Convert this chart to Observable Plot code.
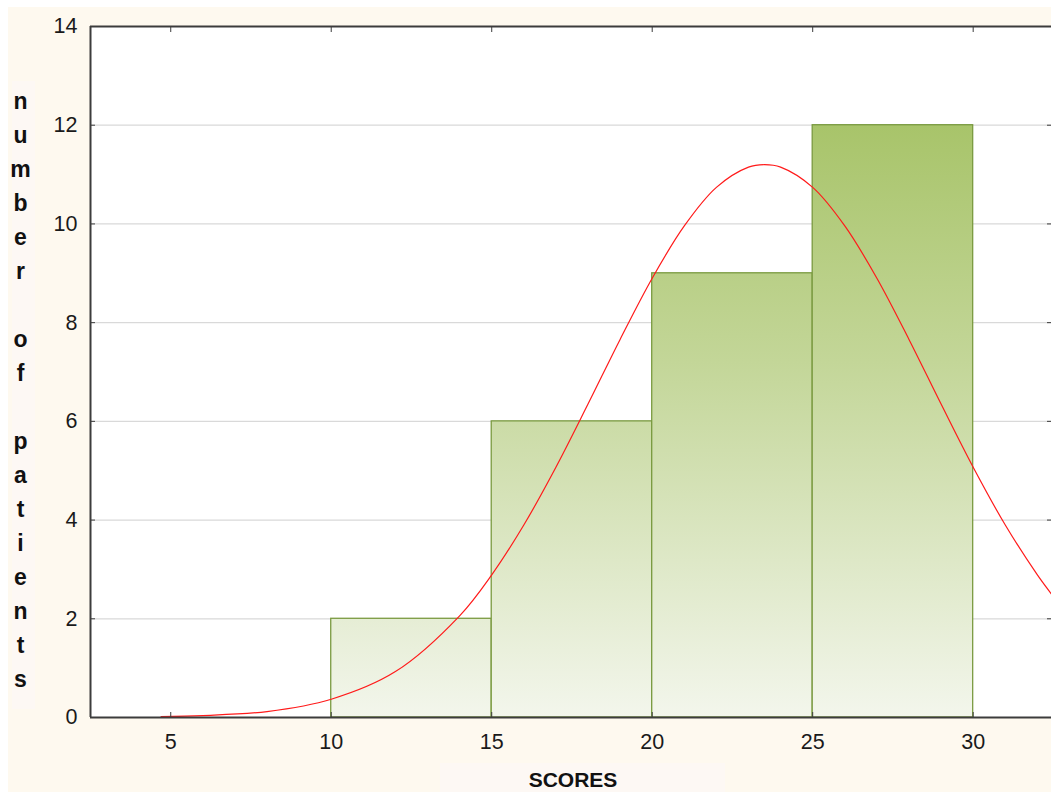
<!DOCTYPE html>
<html>
<head>
<meta charset="utf-8">
<script src="https://cdn.jsdelivr.net/npm/d3@7"></script>
<script src="https://cdn.jsdelivr.net/npm/@observablehq/plot@0.6"></script>
<style>
  html, body { margin: 0; padding: 0; background: #ffffff; overflow: hidden; }
  #bg { position: absolute; left: 8px; top: 7px; width: 1043px; height: 785px; background: #fef9ef; }
  #ybox { position: absolute; left: 12px; top: 81px; width: 23px; height: 628px; background: #fdf8f4; }
  #xbox { position: absolute; left: 440px; top: 763px; width: 285px; height: 29px; background: #fdf8f4; }
  #chart { position: absolute; left: 0; top: 0; }
  #chart svg g[aria-label$="tick label"] text { font-size: 21.5px; }
</style>
</head>
<body>
<div id="bg"></div>
<div id="ybox"></div>
<div id="xbox"></div>
<div id="chart"></div>
<script>
// ---- data ----
const binStart = [10, 15, 20, 25];
const binEnd   = [15, 20, 25, 30];
const counts   = [2, 6, 9, 12];

// fitted normal curve
const curveX = [4.7, 6, 8, 10, 12, 14, 15, 16, 17, 18, 19, 20, 21, 22, 23, 23.5, 24, 25, 26, 27, 28, 29, 30, 31, 32, 32.5];
const curveY = [0.02, 0.04, 0.12, 0.37, 0.93, 2.06, 2.89, 3.9, 5.07, 6.35, 7.66, 8.9, 9.96, 10.74, 11.15, 11.2, 11.15, 10.74, 9.96, 8.9, 7.66, 6.35, 5.07, 3.9, 2.89, 2.45];

const xTicks = [5, 10, 15, 20, 25, 30];
const yTicks = [0, 2, 4, 6, 8, 10, 12, 14];
const gridTicks = [2, 4, 6, 8, 10, 12];
const xDomain = [2.5, 32.44];
const yDomain = [0, 14];
const yLabel = "number of patients";
const xLabel = "SCORES";

const bars = binStart.map((s, i) => ({x1: s, x2: binEnd[i], y: counts[i]}));
const curve = curveX.map((x, i) => ({x, y: curveY[i]}));

const axisColor = "#3c3c3c";
const tickFont = "Liberation Sans, Arial, sans-serif";

const plot = Plot.plot({
  width: 1051,
  height: 792,
  marginLeft: 90,
  marginRight: 0,
  marginTop: 26,
  marginBottom: 75,
  style: {background: "transparent", fontFamily: tickFont, fontSize: "21px", color: "#1a1a1a", overflow: "visible"},
  x: {domain: xDomain, ticks: xTicks, label: null},
  y: {domain: yDomain, ticks: yTicks, label: null},
  marks: [
    Plot.frame({fill: "white", stroke: null}),
    Plot.ruleY(gridTicks, {stroke: "#d9d9d9", strokeWidth: 1.3}),
    Plot.rect(bars, {x1: "x1", x2: "x2", y1: 0, y2: "y", fill: "url(#barGrad)", stroke: "#7a9a40", strokeWidth: 1.3}),
    Plot.line(curve, {x: "x", y: "y", stroke: "#ff1a1a", strokeWidth: 1.2, curve: "catmull-rom", clip: true}),
    // labels
    Plot.axisY({ticks: yTicks, tickSize: 0, tickPadding: 13, fontSize: 21.5, fill: "#1a1a1a", label: null}),
    Plot.axisX({ticks: xTicks, tickSize: 0, tickPadding: 16, fontSize: 21.5, fill: "#1a1a1a", label: null}),
    // inward ticks
    Plot.axisY({ticks: yTicks, tickSize: -5, tickFormat: () => "", stroke: axisColor, label: null}),
    Plot.axisY({ticks: yTicks, anchor: "right", tickSize: -5, tickFormat: () => "", stroke: axisColor, label: null}),
    Plot.axisX({ticks: xTicks, tickSize: -5, tickFormat: () => "", stroke: axisColor, label: null}),
    Plot.axisX({ticks: xTicks, anchor: "top", tickSize: -5, tickFormat: () => "", stroke: axisColor, label: null}),
    // frame lines (left, top, bottom)
    Plot.ruleX([xDomain[0]], {stroke: axisColor, strokeWidth: 2}),
    Plot.ruleY([yDomain[0]], {stroke: axisColor, strokeWidth: 2}),
    Plot.ruleY([yDomain[1]], {stroke: axisColor, strokeWidth: 2}),
    // axis titles
    Plot.text([yLabel.split("").join("\n")], {
      frameAnchor: "left", dx: -70, dy: 15, text: d => d,
      fontFamily: tickFont, fontWeight: "bold", fontSize: 23, lineHeight: 1.48,
      fill: "#111", textAnchor: "middle"
    }),
    Plot.text([xLabel], {
      frameAnchor: "bottom", dx: 2, dy: 69, text: d => d,
      fontFamily: tickFont, fontWeight: "bold", fontSize: 21, fill: "#111", textAnchor: "middle"
    })
  ]
});

// gradient used by the bars (user space: darker at the tallest bar, light at 0)
const ns = "http://www.w3.org/2000/svg";
const defs = document.createElementNS(ns, "defs");
const grad = document.createElementNS(ns, "linearGradient");
grad.setAttribute("id", "barGrad");
grad.setAttribute("gradientUnits", "userSpaceOnUse");
grad.setAttribute("x1", 0); grad.setAttribute("x2", 0);
const ys = plot.scale("y");
grad.setAttribute("y1", ys.apply(d3.max(counts)));
grad.setAttribute("y2", ys.apply(0));
[["0%", "#a8c46a"], ["40%", "#c3d698"], ["100%", "#f3f6ec"]].forEach(([o, c]) => {
  const s = document.createElementNS(ns, "stop");
  s.setAttribute("offset", o); s.setAttribute("stop-color", c);
  grad.appendChild(s);
});
defs.appendChild(grad);
plot.insertBefore(defs, plot.firstChild);

document.getElementById("chart").appendChild(plot);
</script>
</body>
</html>
